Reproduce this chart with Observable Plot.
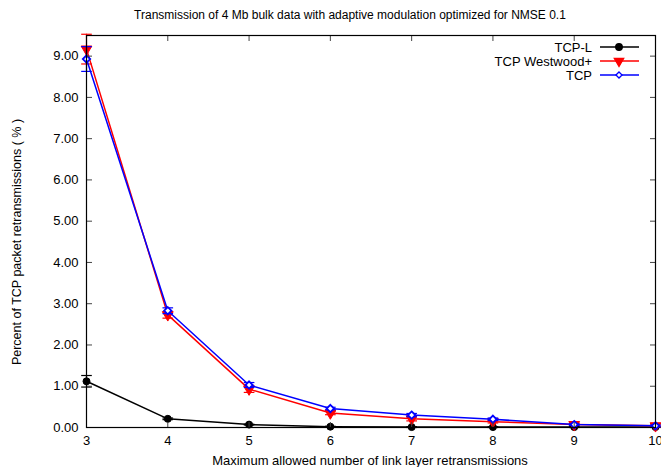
<!DOCTYPE html>
<html><head><meta charset="utf-8">
<script src="https://cdn.jsdelivr.net/npm/d3@7"></script>
<script src="https://cdn.jsdelivr.net/npm/@observablehq/plot@0.6"></script>
<style>
body{margin:0;background:#fff;}
#chart{position:relative;width:661px;height:467px;overflow:hidden;}
</style></head>
<body><div id="chart"></div>
<script>
const retx = [3, 4, 5, 6, 7, 8, 9, 10];
const seriesNames = ["TCP-L", "TCP Westwood+", "TCP"];
const tcpL      = [1.12, 0.21, 0.07, 0.02, 0.01, 0.01, 0.01, 0.01];
const tcpLErr   = [0.14, 0.02, 0.01, 0.01, 0.01, 0.01, 0.01, 0.01];
const westwood  = [9.17, 2.73, 0.93, 0.35, 0.21, 0.14, 0.07, 0.04];
const westErr   = [0.36, 0.08, 0.08, 0.04, 0.05, 0.03, 0.02, 0.02];
const tcp       = [8.93, 2.83, 1.03, 0.46, 0.30, 0.20, 0.07, 0.04];
const tcpErr    = [0.30, 0.07, 0.06, 0.03, 0.04, 0.03, 0.02, 0.02];
const yTicks = [0,1,2,3,4,5,6,7,8,9];
const xTicks = [3,4,5,6,7,8,9,10];
const colors = ["#000000", "#ff0000", "#0000ff"];

const rows = [];
[[tcpL, tcpLErr], [westwood, westErr], [tcp, tcpErr]].forEach(([v, e], s) => {
  retx.forEach((x, i) => rows.push({series: seriesNames[s], x, y: v[i], lo: v[i] - e[i], hi: v[i] + e[i]}));
});

const capSymbol = {draw(ctx, size) { const r = Math.sqrt(size); ctx.moveTo(-r, 0); ctx.lineTo(r, 0); }};
const font = "Liberation Sans, Arial, Helvetica, sans-serif";

const markFor = (name, i) => {
  const d = rows.filter(r => r.series === name);
  const c = colors[i];
  const sym = i === 0 ? "circle" : i === 1 ? "triangle" : "diamond2";
  return [
    Plot.line(d, {x: "x", y: "y", stroke: c, strokeWidth: 1.5}),
    Plot.ruleX(d, {x: "x", y1: "lo", y2: "hi", stroke: c, strokeWidth: 1.2}),
    Plot.dot(d, {x: "x", y: "lo", symbol: capSymbol, r: 3, stroke: c, strokeWidth: 1.2}),
    Plot.dot(d, {x: "x", y: "hi", symbol: capSymbol, r: 3, stroke: c, strokeWidth: 1.2}),
    Plot.dot(d, {x: "x", y: "y", symbol: sym, r: i === 0 ? 3.5 : i === 1 ? 4 : 3.3,
      fill: i === 2 ? "#fff" : c, stroke: c, strokeWidth: i === 2 ? 1.8 : 1, rotate: i === 1 ? 180 : 0})
  ];
};

const plot = Plot.plot({
  width: 661, height: 467,
  marginLeft: 86, marginRight: 6, marginTop: 35, marginBottom: 40,
  style: {fontFamily: font, fontSize: "13px", background: "#fff", color: "#000"},
  x: {domain: [3, 10], ticks: xTicks, label: null},
  y: {domain: [0, 9.5], ticks: yTicks, label: null},
  marks: [
    ...seriesNames.flatMap((n, i) => markFor(n, i)),
    Plot.axisX(xTicks, {anchor: "bottom", tickSize: -5, tickPadding: 13, stroke: "#444", fontSize: 13}),
    Plot.axisX(xTicks, {anchor: "top", tickSize: -5, tickFormat: () => "", stroke: "#444"}),
    Plot.axisY(yTicks, {anchor: "left", tickSize: -6, tickPadding: 14, tickFormat: d => d.toFixed(2), stroke: "#444", fontSize: 13}),
    Plot.axisY(yTicks, {anchor: "right", tickSize: -6, tickFormat: () => "", stroke: "#444"}),
    Plot.frame({stroke: "#000", strokeWidth: 1.2})
  ]
});

const svg = d3.select(plot);
svg.append("text").attr("x", 350).attr("y", 19).attr("text-anchor", "middle")
  .attr("font-family", font).attr("font-size", 12).text("Transmission of 4 Mb bulk data with adaptive modulation optimized for NMSE 0.1");
svg.append("text").attr("x", 370).attr("y", 465).attr("text-anchor", "middle")
  .attr("font-family", font).attr("font-size", 13).text("Maximum allowed number of link layer retransmissions");
svg.append("text").attr("transform", "translate(21,242) rotate(-90)").attr("text-anchor", "middle")
  .attr("font-family", font).attr("font-size", 12.5).text("Percent of TCP packet retransmissions ( % )");
const lg = svg.append("g").attr("font-family", font).attr("font-size", 13);
const syms = [d3.symbolCircle, d3.symbolTriangle, d3.symbolDiamond2];
seriesNames.forEach((n, i) => {
  const y = 47 + i * 14;
  lg.append("text").attr("x", 592).attr("y", y).attr("dy", "0.35em").attr("text-anchor", "end").text(n);
  lg.append("line").attr("x1", 600).attr("x2", 639).attr("y1", y).attr("y2", y).attr("stroke", colors[i]).attr("stroke-width", 1.5);
  lg.append("path").attr("d", d3.symbol(syms[i], i === 0 ? 34 : i === 1 ? 38 : 24)())
    .attr("transform", `translate(619,${y})` + (i === 1 ? " rotate(180)" : ""))
    .attr("fill", i === 2 ? "#fff" : colors[i]).attr("stroke", colors[i]).attr("stroke-width", 1.3);
});

document.getElementById("chart").appendChild(plot);
</script></body></html>
